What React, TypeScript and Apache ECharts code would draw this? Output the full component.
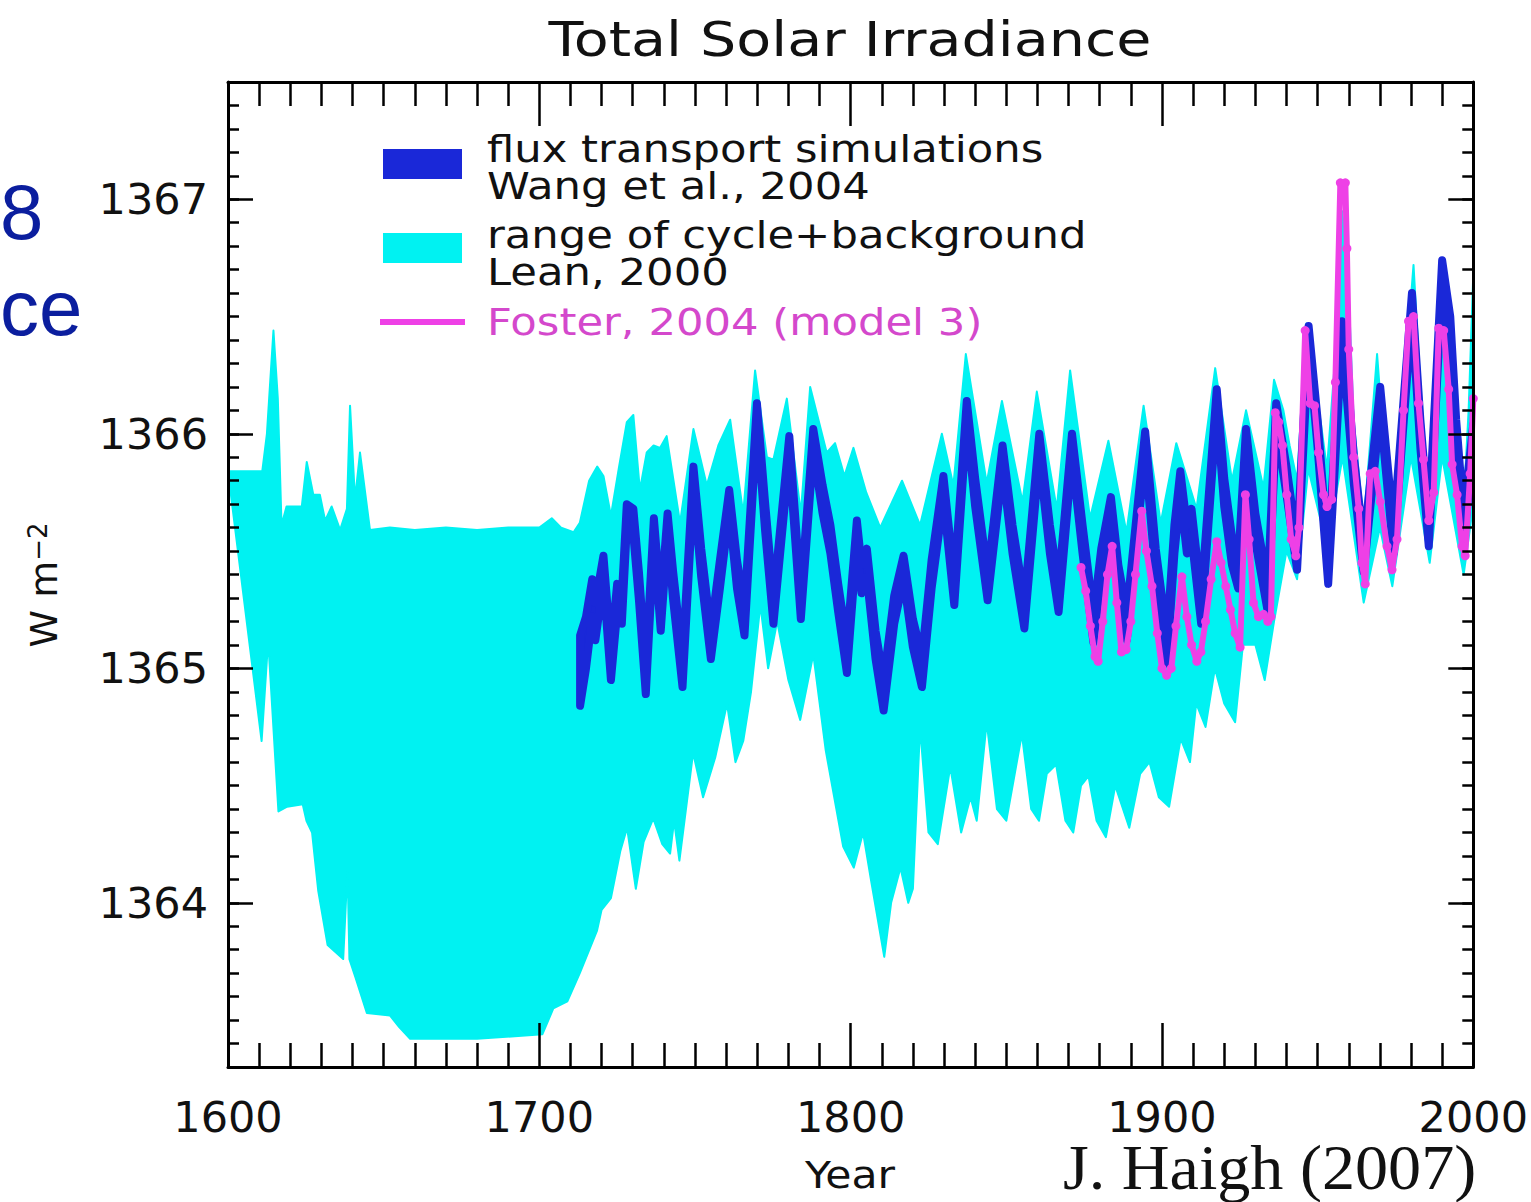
import React, { useEffect, useRef } from 'react';
import * as echarts from 'echarts';

// Lean (2000): range of cycle + background (upper / lower envelope), [year, W m^-2]
const LEAN_UPPER: [number, number][] = [
  [1600, 1365.84], [1611, 1365.84], [1612.5, 1366.0], [1614.6, 1366.44], [1616, 1366.15], [1617.2, 1365.61],
  [1618.8, 1365.69], [1623.7, 1365.69], [1625.3, 1365.88], [1627.4, 1365.74], [1629.5, 1365.74], [1631.2, 1365.63],
  [1633.3, 1365.69], [1636, 1365.59], [1638.2, 1365.68], [1639.2, 1366.12], [1640.8, 1365.72], [1642.4, 1365.92],
  [1645.6, 1365.59], [1652, 1365.6], [1660, 1365.59], [1670, 1365.6], [1680, 1365.59], [1690, 1365.6],
  [1700, 1365.6], [1704, 1365.64], [1707, 1365.6], [1711, 1365.58], [1713, 1365.62], [1716, 1365.8],
  [1718.6, 1365.86], [1720.6, 1365.82], [1723, 1365.65], [1725.5, 1365.85], [1728.1, 1366.05], [1730.2, 1366.08],
  [1732.3, 1365.76], [1734.5, 1365.92], [1736.7, 1365.95], [1738.8, 1365.94], [1740.9, 1365.99], [1745.2, 1365.62],
  [1749.5, 1366.02], [1753.8, 1365.78], [1757.5, 1365.95], [1761.3, 1366.06], [1765.5, 1365.66], [1769.3, 1366.27],
  [1773.1, 1365.9], [1775.2, 1365.89], [1779.5, 1366.15], [1784, 1365.66], [1787, 1366.2], [1792.3, 1365.92],
  [1795, 1365.96], [1798, 1365.82], [1800.9, 1365.94], [1805, 1365.75], [1809.5, 1365.6], [1816.5, 1365.8],
  [1822.3, 1365.61], [1829.3, 1366.0], [1833, 1365.78], [1837, 1366.34], [1843.7, 1365.79], [1848.6, 1366.14],
  [1855.2, 1365.71], [1859.8, 1366.18], [1866.2, 1365.68], [1870.5, 1366.27], [1876.9, 1365.64], [1882.8, 1365.97],
  [1888.6, 1365.58], [1894.1, 1366.12], [1899.6, 1365.62], [1904.6, 1365.96], [1911.1, 1365.68], [1917.1, 1366.28],
  [1922.5, 1365.8], [1927, 1366.1], [1932.6, 1365.77], [1936, 1366.23], [1939, 1366.1], [1941, 1365.95],
  [1943.4, 1365.8], [1946.4, 1366.47], [1949, 1366.2], [1951, 1366.05], [1953, 1365.85], [1955.5, 1366.3],
  [1957.8, 1366.95], [1959.4, 1366.8], [1961.6, 1366.05], [1964.8, 1365.62], [1966.8, 1365.95], [1969.1, 1366.34],
  [1971, 1366.0], [1974.2, 1365.68], [1977.5, 1366.15], [1980.8, 1366.72], [1983, 1366.2], [1985.7, 1365.72],
  [1988.5, 1366.5], [1990, 1366.72], [1992.5, 1366.45], [1994.5, 1366.0], [1996.9, 1365.7], [1998.5, 1366.1],
  [2000, 1366.68],
];

const LEAN_LOWER: [number, number][] = [
  [1600, 1365.84], [1610.8, 1364.69], [1612.9, 1365.12], [1616.2, 1364.39], [1619, 1364.41], [1624, 1364.42],
  [1625.2, 1364.35], [1627, 1364.3], [1629, 1364.05], [1632, 1363.82], [1637, 1363.76], [1638.4, 1364.15],
  [1639, 1363.76], [1641, 1363.68], [1644.6, 1363.53], [1652, 1363.52], [1655, 1363.47], [1658.5, 1363.42],
  [1680, 1363.42], [1701, 1363.44], [1704.5, 1363.55], [1709, 1363.58], [1713, 1363.7], [1718.5, 1363.88],
  [1720, 1363.97], [1723, 1364.02], [1726, 1364.22], [1728.2, 1364.32], [1731, 1364.06], [1733.5, 1364.26],
  [1736.6, 1364.36], [1739.5, 1364.25], [1742, 1364.21], [1743.3, 1364.35], [1745, 1364.18], [1749.4, 1364.64],
  [1752.6, 1364.45], [1756.5, 1364.62], [1760.3, 1364.85], [1763, 1364.6], [1765.5, 1364.69], [1768, 1364.9],
  [1771, 1365.27], [1773.5, 1365.0], [1776.4, 1365.2], [1780, 1364.95], [1783.8, 1364.78], [1788, 1365.06],
  [1792, 1364.65], [1797.6, 1364.24], [1801, 1364.15], [1804, 1364.3], [1806.5, 1364.1], [1810.8, 1363.77],
  [1813, 1364.0], [1816, 1364.15], [1818.5, 1364.0], [1820, 1364.06], [1822.3, 1364.75], [1825, 1364.3],
  [1828, 1364.25], [1832, 1364.58], [1835.5, 1364.3], [1838.5, 1364.45], [1840.5, 1364.35], [1843.7, 1364.77],
  [1847, 1364.4], [1850, 1364.35], [1855, 1364.72], [1858, 1364.4], [1860.5, 1364.35], [1863, 1364.55],
  [1866, 1364.59], [1869, 1364.35], [1871.5, 1364.3], [1874, 1364.5], [1876.4, 1364.54], [1879, 1364.35],
  [1882, 1364.28], [1885, 1364.5], [1889.5, 1364.32], [1893, 1364.55], [1896, 1364.6], [1899, 1364.45],
  [1902.3, 1364.41], [1906, 1364.7], [1909, 1364.6], [1911, 1364.85], [1914, 1364.75], [1917, 1365.0],
  [1920, 1364.85], [1923.5, 1364.77], [1926, 1365.1], [1930, 1365.1], [1933, 1364.95], [1936, 1365.2],
  [1940, 1365.5], [1943.4, 1365.38], [1947, 1365.85], [1953, 1365.52], [1958, 1365.9], [1964.8, 1365.28],
  [1970, 1365.6], [1974, 1365.35], [1980, 1365.9], [1986, 1365.45], [1990, 1365.9], [1996.9, 1365.4],
  [2000, 1365.7],
];

// Wang et al. (2004): flux transport simulations (upper / lower edge of band)
const WANG_UPPER: [number, number][] = [
  [1713.1, 1365.14], [1715, 1365.22], [1717, 1365.38], [1718, 1365.28], [1720.6, 1365.48], [1723, 1365.08],
  [1725, 1365.36], [1726.5, 1365.31], [1728.1, 1365.7], [1730.2, 1365.68], [1732, 1365.41], [1734.2, 1365.01],
  [1736.8, 1365.64], [1739, 1365.28], [1741.2, 1365.66], [1743, 1365.41], [1746, 1365.05], [1749.5, 1365.86],
  [1752, 1365.51], [1755.1, 1365.16], [1758, 1365.46], [1761, 1365.76], [1763.5, 1365.46], [1765.9, 1365.26],
  [1769.9, 1366.13], [1772.5, 1365.71], [1775.2, 1365.3], [1780.3, 1365.99], [1784, 1365.32], [1788, 1366.02],
  [1791, 1365.78], [1793.5, 1365.61], [1796, 1365.36], [1798.8, 1365.11], [1802, 1365.63], [1803.5, 1365.44],
  [1805.2, 1365.51], [1808, 1365.16], [1810.6, 1364.95], [1814, 1365.31], [1817, 1365.48], [1820, 1365.21],
  [1822.9, 1365.05], [1826, 1365.46], [1829.8, 1365.82], [1833.3, 1365.38], [1837.3, 1366.14], [1840, 1365.81],
  [1844, 1365.4], [1848.8, 1365.95], [1852, 1365.61], [1855.8, 1365.29], [1860.6, 1366.0], [1864, 1365.61],
  [1866.8, 1365.36], [1871.1, 1366.0], [1874.5, 1365.61], [1878, 1365.23], [1880.5, 1365.51], [1883.6, 1365.73],
  [1886, 1365.44], [1888.7, 1365.24], [1894.6, 1366.01], [1898, 1365.51], [1901.6, 1365.14], [1904, 1365.61],
  [1905.9, 1365.84], [1908, 1365.61], [1909.5, 1365.68], [1912.6, 1365.31], [1917.6, 1366.19], [1920, 1365.81],
  [1922.5, 1365.56], [1924.5, 1365.46], [1927, 1366.02], [1930, 1365.66], [1934, 1365.36], [1936.7, 1366.13],
  [1940, 1365.86], [1943.4, 1365.53], [1947.1, 1366.46], [1950, 1366.06], [1953.4, 1365.48], [1957.8, 1366.48],
  [1959.4, 1366.27], [1961.6, 1365.91], [1964.8, 1365.53], [1970.1, 1366.2], [1974.4, 1365.6], [1980.3, 1366.6],
  [1983, 1366.06], [1985.7, 1365.63], [1990, 1366.74], [1992.6, 1366.5], [1994.5, 1366.06], [1996.9, 1365.66],
  [2000, 1366.04],
];

const WANG_LOWER: [number, number][] = [
  [1713.1, 1364.84], [1715, 1365.0], [1717, 1365.22], [1718, 1365.12], [1720.6, 1365.37], [1723, 1364.95],
  [1725, 1365.24], [1726.5, 1365.19], [1728.1, 1365.6], [1730.2, 1365.57], [1732, 1365.29], [1734.2, 1364.89],
  [1736.8, 1365.54], [1739, 1365.16], [1741.2, 1365.57], [1743, 1365.29], [1746, 1364.92], [1749.5, 1365.77],
  [1752, 1365.39], [1755.1, 1365.04], [1758, 1365.34], [1761, 1365.67], [1763.5, 1365.34], [1765.9, 1365.14],
  [1769.9, 1366.05], [1772.5, 1365.59], [1775.2, 1365.19], [1780.3, 1365.9], [1784, 1365.21], [1788, 1365.93],
  [1791, 1365.66], [1793.5, 1365.49], [1796, 1365.24], [1798.8, 1364.98], [1802, 1365.53], [1803.5, 1365.32],
  [1805.2, 1365.39], [1808, 1365.04], [1810.6, 1364.82], [1814, 1365.19], [1817, 1365.38], [1820, 1365.09],
  [1822.9, 1364.92], [1826, 1365.34], [1829.8, 1365.72], [1833.3, 1365.27], [1837.3, 1366.05], [1840, 1365.69],
  [1844, 1365.29], [1848.8, 1365.85], [1852, 1365.49], [1855.8, 1365.17], [1860.6, 1365.9], [1864, 1365.49],
  [1866.8, 1365.24], [1871.1, 1365.9], [1874.5, 1365.49], [1878, 1365.11], [1880.5, 1365.39], [1883.6, 1365.62],
  [1886, 1365.32], [1888.7, 1365.12], [1894.6, 1365.91], [1898, 1365.39], [1901.6, 1365.02], [1904, 1365.49],
  [1905.9, 1365.74], [1908, 1365.49], [1909.5, 1365.56], [1912.6, 1365.19], [1917.6, 1366.1], [1920, 1365.69],
  [1922.5, 1365.44], [1924.5, 1365.34], [1927, 1365.92], [1930, 1365.54], [1934, 1365.24], [1936.7, 1366.03],
  [1940, 1365.74], [1943.4, 1365.42], [1947.1, 1366.37], [1950, 1365.94], [1953.4, 1365.36], [1957.8, 1366.39],
  [1959.4, 1366.15], [1961.6, 1365.79], [1964.8, 1365.41], [1970.1, 1366.1], [1974.4, 1365.49], [1980.3, 1366.51],
  [1983, 1365.94], [1985.7, 1365.52], [1990, 1366.65], [1992.6, 1366.38], [1994.5, 1365.94], [1996.9, 1365.54],
  [2000, 1365.94],
];

// Foster (2004), model 3
const FOSTER: [number, number][] = [
  [1874, 1365.43], [1875.5, 1365.33], [1877, 1365.18], [1878.5, 1365.05], [1879.5, 1365.03], [1881, 1365.2],
  [1882.5, 1365.4], [1884, 1365.52], [1885.5, 1365.28], [1887, 1365.07], [1888.5, 1365.08], [1890, 1365.2],
  [1891.5, 1365.4], [1893.5, 1365.67], [1895, 1365.5], [1896.8, 1365.35], [1898.5, 1365.15], [1900, 1365.0],
  [1901.5, 1364.97], [1903, 1365.0], [1904.5, 1365.18], [1906.4, 1365.39], [1908, 1365.22], [1909.5, 1365.1],
  [1911.2, 1365.03], [1912.5, 1365.07], [1914, 1365.2], [1915.8, 1365.38], [1917.6, 1365.54], [1919, 1365.45],
  [1920.5, 1365.35], [1922, 1365.25], [1923.5, 1365.15], [1925.1, 1365.09], [1926.8, 1365.74], [1928, 1365.55],
  [1929.4, 1365.28], [1931, 1365.22], [1932.6, 1365.23], [1934, 1365.2], [1935, 1365.22], [1936.4, 1366.09],
  [1937.5, 1366.05], [1938.7, 1365.95], [1940.1, 1365.74], [1941.5, 1365.55], [1943, 1365.48], [1944, 1365.6],
  [1946, 1366.44], [1947.6, 1366.13], [1949, 1366.12], [1950.3, 1365.92], [1951.9, 1365.74], [1953, 1365.69],
  [1954.5, 1365.72], [1955.7, 1366.22], [1957.3, 1367.07], [1958.9, 1367.07], [1959.4, 1366.79], [1960, 1366.36],
  [1961.6, 1365.9], [1963.2, 1365.68], [1964.2, 1365.45], [1965.3, 1365.36], [1966.9, 1365.83], [1968.5, 1365.84],
  [1970.1, 1365.71], [1972.3, 1365.52], [1973.9, 1365.42], [1975.5, 1365.55], [1977.6, 1366.1], [1979.2, 1366.48],
  [1980.8, 1366.5], [1982.4, 1366.13], [1984, 1365.89], [1985.7, 1365.63], [1987.3, 1365.75], [1988.9, 1366.45],
  [1990.5, 1366.44], [1992.1, 1366.19], [1993.2, 1365.87], [1994.8, 1365.74], [1996.4, 1365.52], [1997.4, 1365.48],
  [1999, 1365.83], [2000, 1366.15],
];

const X_MIN = 1600;
const X_MAX = 2000;
const X_MAJOR_STEP = 100;
const Y_MIN = 1363.3;
const Y_MAX = 1367.5;
const Y_MAJOR = [1364, 1365, 1366, 1367];
const Y_MINOR: number[] = [];
for (let i = 1; i <= 41; i++) Y_MINOR.push(Number((Y_MIN + i * 0.1).toFixed(1)));

const CYAN = '#00F2F2';
const BLUE = '#1A28D8';
const MAGENTA = '#EE40E6';
const MAGENTA_TEXT = '#D448CC';
const FONT = '"DejaVu Sans", "Noto Sans", sans-serif';

function band(name: string, upper: [number, number][], lower: [number, number][], color: string, z: number, strokeW: number) {
  return {
    type: 'custom',
    name,
    xAxisIndex: 0,
    yAxisIndex: 0,
    z,
    silent: true,
    clip: true,
    data: [upper[0]],
    renderItem: (_params: any, api: any) => {
      const pts = upper.map((p) => api.coord(p)).concat(lower.slice().reverse().map((p) => api.coord(p)));
      return {
        type: 'polygon',
        shape: { points: pts },
        style: { fill: color, stroke: color, lineWidth: strokeW, lineJoin: 'round' },
      };
    },
  };
}

export default function App() {
  const ref = useRef<HTMLDivElement>(null);
  useEffect(() => {
    if (!ref.current) return;
    const chart = echarts.init(ref.current, null, { renderer: 'svg' });
    const black = '#000';
    const xCommon = {
      type: 'value',
      min: X_MIN,
      max: X_MAX,
      interval: X_MAJOR_STEP,
      z: 10,
      axisLine: { show: true, onZero: false, lineStyle: { color: black, width: 3 } },
      axisTick: { show: true, inside: true, length: 44, lineStyle: { color: black, width: 2.5 } },
      minorTick: { show: true, splitNumber: 10, length: 24, lineStyle: { color: black, width: 2.5 } },
      splitLine: { show: false },
      minorSplitLine: { show: false },
    };
    const yMajor = (pos: string, labels: boolean) => ({
      type: 'value',
      position: pos,
      min: Y_MIN,
      max: Y_MAX,
      z: 10,
      axisLine: { show: true, onZero: false, lineStyle: { color: black, width: 3 } },
      axisTick: { show: true, inside: true, length: 25, customValues: Y_MAJOR, lineStyle: { color: black, width: 2.5 } },
      axisLabel: labels
        ? {
            show: true,
            customValues: Y_MAJOR,
            fontSize: 43,
            fontFamily: FONT,
            color: '#111',
            margin: 20,
            formatter: (v: number) => String(Math.round(v)),
          }
        : { show: false },
      splitLine: { show: false },
    });
    const yMinor = (pos: string) => ({
      type: 'value',
      position: pos,
      min: Y_MIN,
      max: Y_MAX,
      z: 10,
      axisLine: { show: false, onZero: false },
      axisTick: { show: true, inside: true, length: 11, customValues: Y_MINOR, lineStyle: { color: black, width: 2.5 } },
      axisLabel: { show: false },
      splitLine: { show: false },
    });

    const legendText = (text: string, y: number, color: string) => ({
      type: 'text',
      x: 487,
      y,
      scaleX: 1.14,
      style: { text, font: `38px ${FONT}`, fill: color, align: 'left', verticalAlign: 'middle' },
    });

    const option: any = {
      animation: false,
      backgroundColor: '#fff',
      grid: { left: 228, right: 51, top: 82, bottom: 135, containLabel: false },
      xAxis: [
        {
          ...xCommon,
          position: 'bottom',
          axisLabel: {
            show: true,
            fontSize: 43,
            fontFamily: FONT,
            color: '#111',
            margin: 28,
            formatter: (v: number) => String(Math.round(v)),
          },
        },
        { ...xCommon, position: 'top', axisLabel: { show: false } },
      ],
      yAxis: [yMajor('left', true), yMinor('left'), yMajor('right', false), yMinor('right')],
      series: [
        band('range of cycle+background, Lean, 2000', LEAN_UPPER, LEAN_LOWER, CYAN, 1, 2),
        band('flux transport simulations, Wang et al., 2004', WANG_UPPER, WANG_LOWER, BLUE, 2, 8),
        {
          type: 'line',
          name: 'Foster, 2004 (model 3)',
          xAxisIndex: 0,
          yAxisIndex: 0,
          z: 3,
          data: FOSTER,
          symbol: 'circle',
          symbolSize: 9,
          showSymbol: true,
          clip: true,
          lineStyle: { color: MAGENTA, width: 6 },
          itemStyle: { color: MAGENTA },
          silent: true,
        },
      ],
      graphic: [
        {
          type: 'text',
          x: 850,
          y: 39,
          scaleX: 1.19,
          style: { text: 'Total Solar Irradiance', font: `48px ${FONT}`, fill: '#111', align: 'center', verticalAlign: 'middle' },
        },
        { type: 'rect', shape: { x: 383, y: 149, width: 79, height: 30 }, style: { fill: BLUE }, z: 20 },
        { type: 'rect', shape: { x: 383, y: 233, width: 79, height: 30 }, style: { fill: CYAN }, z: 20 },
        { type: 'line', shape: { x1: 380, y1: 322, x2: 465, y2: 322 }, style: { stroke: MAGENTA, lineWidth: 6 }, z: 20 },
        legendText('flux transport simulations', 149, '#111'),
        legendText('Wang et al., 2004', 186, '#111'),
        legendText('range of cycle+background', 235, '#111'),
        legendText('Lean, 2000', 272, '#111'),
        legendText('Foster, 2004 (model 3)', 322, MAGENTA_TEXT),
        {
          type: 'text',
          x: 850,
          y: 1175,
          scaleX: 1.15,
          style: { text: 'Year', font: `37px ${FONT}`, fill: '#111', align: 'center', verticalAlign: 'middle' },
        },
        {
          type: 'text',
          x: 44,
          y: 585,
          rotation: Math.PI / 2,
          style: {
            text: 'W m{s|−2}',
            font: `38px ${FONT}`,
            fill: '#111',
            align: 'center',
            verticalAlign: 'middle',
            rich: { s: { fontSize: 26, fontFamily: FONT, verticalAlign: 'top', fill: '#111' } },
          },
        },
        {
          type: 'text',
          x: 0,
          y: 212,
          style: { text: '8', font: `78px "Liberation Sans", Arial, sans-serif`, fill: '#0B1E9E', align: 'left', verticalAlign: 'middle' },
        },
        {
          type: 'text',
          x: 0,
          y: 308,
          style: { text: 'ce', font: `78px "Liberation Sans", Arial, sans-serif`, fill: '#0B1E9E', align: 'left', verticalAlign: 'middle' },
        },
        {
          type: 'text',
          x: 1063,
          y: 1168,
          scaleX: 1.05,
          style: { text: 'J. Haigh (2007)', font: `63px "Liberation Serif", "DejaVu Serif", serif`, fill: '#111', align: 'left', verticalAlign: 'middle' },
        },
      ],
    };
    chart.setOption(option);
    return () => chart.dispose();
  }, []);
  return (
    <div
      ref={ref}
      style={{ position: 'fixed', left: 0, top: 0, width: 1531, height: 1202, background: '#fff' }}
    />
  );
}
